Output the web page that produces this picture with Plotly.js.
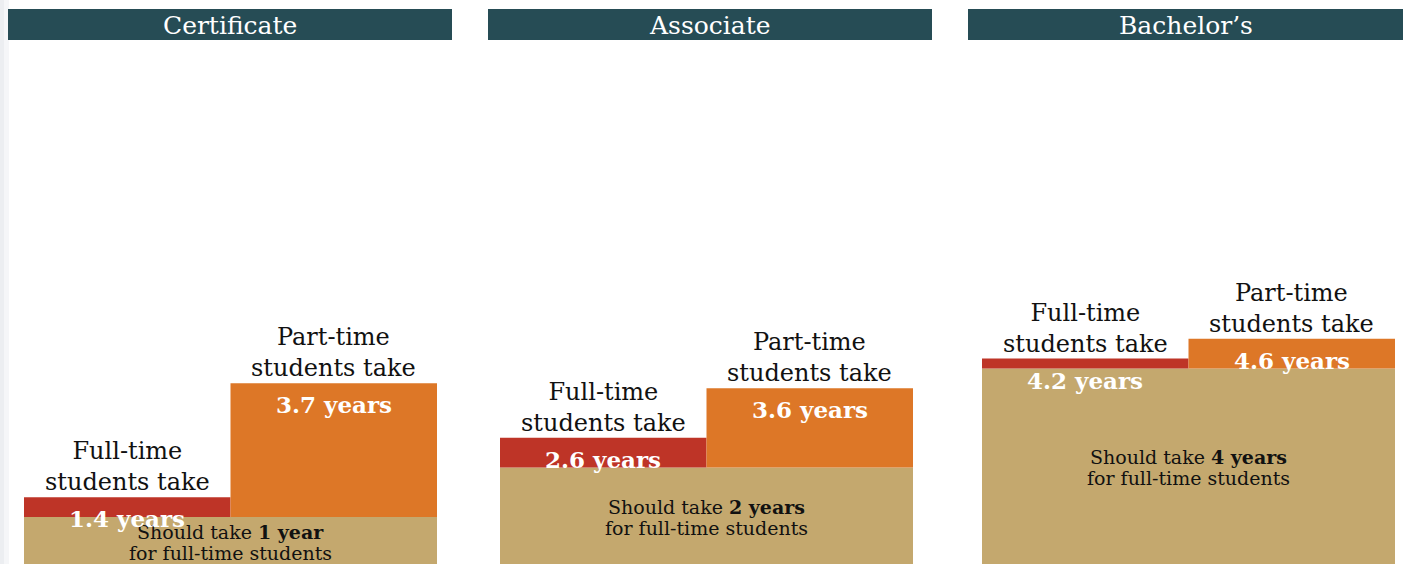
<!DOCTYPE html>
<html>
<head>
<meta charset="utf-8">
<script src="https://cdn.plot.ly/plotly-3.0.1.min.js"></script>
<style>
  html, body { margin: 0; padding: 0; background: #fff; }
  #chart { width: 1403px; height: 564px; }
</style>
</head>
<body>
<div id="chart"></div>
<script>
// data
var degrees = ['Certificate', 'Associate', 'Bachelor\u2019s'];
var expectedYears = [1, 2, 4];
var fullTimeYears = [1.4, 2.6, 4.2];
var partTimeYears = [3.7, 3.6, 4.6];
var expectedLabels = ['1 year', '2 years', '4 years'];

// colours
var tan = '#c4a86e';
var red = '#be3427';
var orange = '#dd7727';
var header = '#264c55';
var font = 'DejaVu Serif, Liberation Serif, serif';

// panel positions (paper fractions)
var W = 1403;
var barDomains = [[24 / W, 437 / W], [500 / W, 913 / W], [982 / W, 1395 / W]];
var headerSpans = [[8 / W, 452 / W], [488 / W, 932 / W], [968 / W, 1]];

var traces = [];
var annotations = [];
var shapes = [];

// faint shadow on left edge
shapes.push({type: 'rect', xref: 'paper', yref: 'paper', x0: 0, x1: 4 / W, y0: 0, y1: 1,
  fillcolor: '#eceef1', line: {width: 0}, layer: 'below'});
shapes.push({type: 'rect', xref: 'paper', yref: 'paper', x0: 4 / W, x1: 9 / W, y0: 0, y1: 1,
  fillcolor: '#f5f6f8', line: {width: 0}, layer: 'below'});

var layout = {
  width: 1403,
  height: 564,
  margin: {l: 0, r: 0, t: 0, b: 0},
  paper_bgcolor: '#fff',
  plot_bgcolor: 'rgba(0,0,0,0)',
  barmode: 'overlay',
  showlegend: false,
  hovermode: false,
  font: {family: font, color: '#111'}
};

for (var i = 0; i < degrees.length; i++) {
  var n = i === 0 ? '' : String(i + 1);
  var xa = 'x' + n, ya = 'y' + n;

  // base: expected time
  traces.push({type: 'bar', x: [1], y: [expectedYears[i]], width: [2],
    marker: {color: tan, line: {width: 0}}, xaxis: xa, yaxis: ya});
  // full-time extra
  traces.push({type: 'bar', x: [0.5], y: [fullTimeYears[i] - expectedYears[i]], base: [expectedYears[i]], width: [1],
    marker: {color: red, line: {width: 0}}, xaxis: xa, yaxis: ya});
  // part-time extra
  traces.push({type: 'bar', x: [1.5], y: [partTimeYears[i] - expectedYears[i]], base: [expectedYears[i]], width: [1],
    marker: {color: orange, line: {width: 0}}, xaxis: xa, yaxis: ya});

  layout['xaxis' + n] = {domain: barDomains[i], range: [0, 2], visible: false, fixedrange: true, anchor: ya};
  layout['yaxis' + n] = {domain: [0, 1], range: [0.05, 11.44], visible: false, fixedrange: true, anchor: xa};

  // header band
  shapes.push({type: 'rect', xref: 'paper', yref: 'paper', x0: headerSpans[i][0], x1: headerSpans[i][1],
    y0: 1 - 40 / 564, y1: 1 - 9 / 564, fillcolor: header, line: {width: 0}});
  annotations.push({xref: 'paper', yref: 'paper', x: (headerSpans[i][0] + headerSpans[i][1]) / 2,
    y: 1 - 25 / 564, text: degrees[i], showarrow: false, xanchor: 'center', yanchor: 'middle',
    font: {family: font, size: 25, color: '#fff'}});

  // should take text in base (two lines, tight spacing)
  annotations.push({xref: xa, yref: ya, x: 1, y: expectedYears[i] / 2, showarrow: false,
    xanchor: 'center', yanchor: 'middle', yshift: 10,
    text: 'Should take <b>' + expectedLabels[i] + '</b>',
    font: {family: font, size: 19, color: '#111'}});
  annotations.push({xref: xa, yref: ya, x: 1, y: expectedYears[i] / 2, showarrow: false,
    xanchor: 'center', yanchor: 'middle', yshift: -11,
    text: 'for full-time students',
    font: {family: font, size: 19, color: '#111'}});

  // labels above bars
  annotations.push({xref: xa, yref: ya, x: 0.5, y: fullTimeYears[i], showarrow: false, yanchor: 'bottom',
    xanchor: 'center', yshift: -1, text: 'Full-time<br>students take', font: {family: font, size: 24, color: '#111'}});
  annotations.push({xref: xa, yref: ya, x: 1.5, y: partTimeYears[i], showarrow: false, yanchor: 'bottom',
    xanchor: 'center', yshift: -1, text: 'Part-time<br>students take', font: {family: font, size: 24, color: '#111'}});

  // values in bars
  annotations.push({xref: xa, yref: ya, x: 0.5, y: fullTimeYears[i], showarrow: false, yanchor: 'top',
    xanchor: 'center', yshift: -6, text: '<b>' + fullTimeYears[i].toFixed(1) + ' years</b>',
    font: {family: font, size: 23, color: '#fff'}});
  annotations.push({xref: xa, yref: ya, x: 1.5, y: partTimeYears[i], showarrow: false, yanchor: 'top',
    xanchor: 'center', yshift: -6, text: '<b>' + partTimeYears[i].toFixed(1) + ' years</b>',
    font: {family: font, size: 23, color: '#fff'}});
}

layout.shapes = shapes;
layout.annotations = annotations;

Plotly.newPlot('chart', traces, layout, {displayModeBar: false, staticPlot: true});
</script>
</body>
</html>
